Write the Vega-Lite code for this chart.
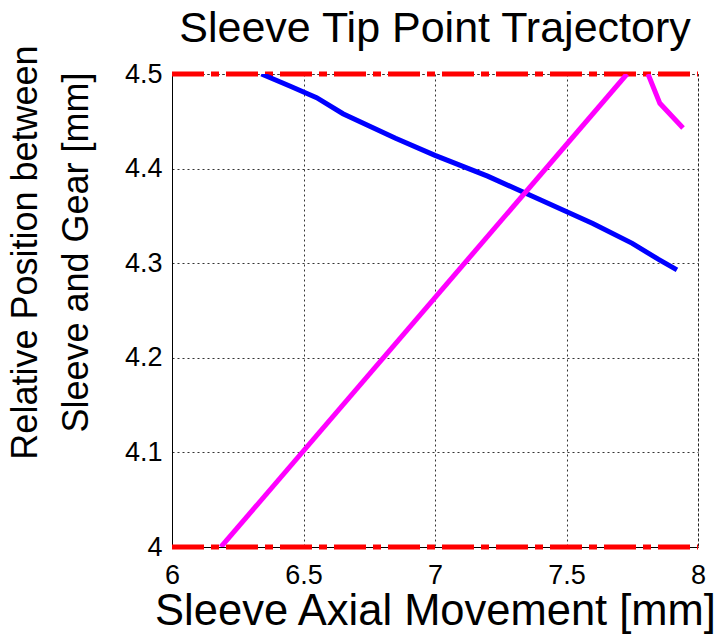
{
  "$schema": "https://vega.github.io/schema/vega-lite/v6.json",
  "width": 526,
  "height": 473,
  "autosize": "none",
  "padding": {"left": 172, "top": 74, "right": 22, "bottom": 90},
  "background": "white",
  "config": {
    "font": "Liberation Sans",
    "view": {"stroke": "black", "strokeDash": [2, 3], "strokeWidth": 1}
  },
  "title": {
    "text": "Sleeve Tip Point Trajectory",
    "fontSize": 43,
    "fontWeight": "normal",
    "color": "black",
    "offset": 21,
    "dy": 27,
    "anchor": "middle"
  },
  "datasets": {
    "blue": [
      {"x": 6.34, "y": 4.5},
      {"x": 6.45, "y": 4.487},
      {"x": 6.55, "y": 4.475},
      {"x": 6.65, "y": 4.458},
      {"x": 6.85, "y": 4.432},
      {"x": 7.0, "y": 4.414},
      {"x": 7.2, "y": 4.392},
      {"x": 7.4, "y": 4.367},
      {"x": 7.6, "y": 4.342},
      {"x": 7.75, "y": 4.321},
      {"x": 7.85, "y": 4.304},
      {"x": 7.92, "y": 4.293}
    ],
    "magenta": [
      {"x": 6.186, "y": 4.0, "seg": "a"},
      {"x": 7.73, "y": 4.5, "seg": "a"},
      {"x": 7.81, "y": 4.5, "seg": "b"},
      {"x": 7.855, "y": 4.469, "seg": "b"},
      {"x": 7.943, "y": 4.443, "seg": "b"}
    ],
    "red": [
      {"x": 6, "y": 4.0, "g": "low"},
      {"x": 8, "y": 4.0, "g": "low"},
      {"x": 6, "y": 4.5, "g": "high"},
      {"x": 8, "y": 4.5, "g": "high"}
    ]
  },
  "encoding": {
    "x": {
      "field": "x",
      "type": "quantitative",
      "scale": {"domain": [6, 8], "nice": false, "zero": false},
      "axis": {
        "values": [6, 6.5, 7, 7.5, 8],
        "format": "~g",
        "title": "Sleeve Axial Movement [mm]",
        "titleFontSize": 43.5,
        "titleFontWeight": "normal",
        "titleColor": "black",
        "titleY": 43,
        "labelFontSize": 27,
        "labelColor": "black",
        "labelPadding": 15,
        "ticks": false,
        "domainColor": "black",
        "grid": true,
        "gridColor": "#333",
        "gridDash": [2, 3],
        "gridOpacity": 1,
        "labelFlush": false
      }
    },
    "y": {
      "field": "y",
      "type": "quantitative",
      "scale": {"domain": [4, 4.5], "nice": false, "zero": false},
      "axis": {
        "values": [4, 4.1, 4.2, 4.3, 4.4, 4.5],
        "format": "~g",
        "title": ["Relative Position between", "Sleeve and Gear [mm]"],
        "titleFontSize": 36,
        "titleFontWeight": "normal",
        "titleColor": "black",
        "titleLineHeight": 51,
        "titleX": -128,
        "titleY": 178,
        "labelFontSize": 27,
        "labelColor": "black",
        "labelPadding": 10,
        "ticks": false,
        "domainColor": "black",
        "grid": true,
        "gridColor": "#333",
        "gridDash": [2, 3],
        "gridOpacity": 1,
        "labelFlush": false
      }
    }
  },
  "layer": [
    {
      "data": {"name": "red"},
      "mark": {"type": "line", "color": "red", "strokeWidth": 5, "strokeDash": [32, 7, 8, 7], "clip": false},
      "encoding": {"detail": {"field": "g"}}
    },
    {
      "data": {"name": "blue"},
      "mark": {"type": "line", "color": "blue", "strokeWidth": 5, "clip": true},
      "encoding": {}
    },
    {
      "data": {"name": "magenta"},
      "mark": {"type": "line", "color": "magenta", "strokeWidth": 5, "clip": true},
      "encoding": {"detail": {"field": "seg"}}
    }
  ]
}
